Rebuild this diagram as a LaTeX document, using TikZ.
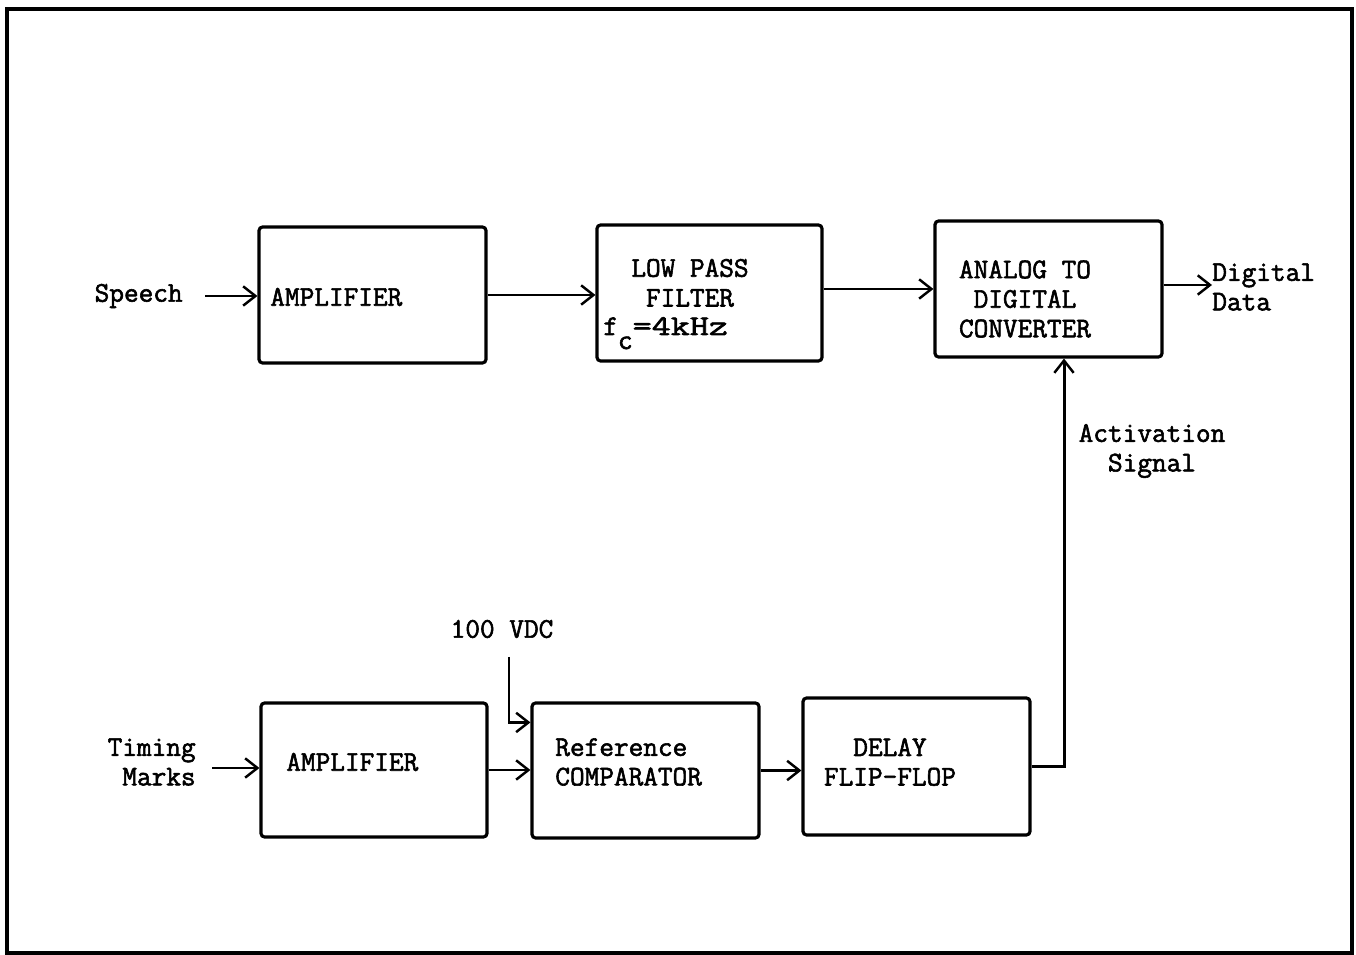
\documentclass[tikz,border=0pt]{standalone}
\usepackage{fontspec}
\setmainfont{Latin Modern Mono}[FakeBold=2]
\usetikzlibrary{arrows.meta,calc}
\begin{document}
\begin{tikzpicture}[x=0.02cm,y=-0.02cm,
  blk/.style={draw, line width=1.8pt, rounded corners=2pt, inner sep=0pt},
  lbl/.style={inner sep=0pt, font=\fontsize{16.2pt}{16.8pt}\selectfont},
  conn/.style={line width=1.7pt, -{Straight Barb[length=7pt,width=11pt,line width=1.4pt]}},
  wire/.style={line width=1.7pt}]
\useasboundingbox (0,0) rectangle (1356,955);
\draw[line width=1.8pt] (7,9) rectangle (1352,953);
% blocks
\node[blk, minimum width=4.54cm, minimum height=2.72cm] (amp1) at (372.5,295) {};
\node[blk, minimum width=4.50cm, minimum height=2.72cm] (lpf) at (709.5,293) {};
\node[blk, minimum width=4.54cm, minimum height=2.72cm] (adc) at (1048.5,289) {};
\node[blk, minimum width=4.52cm, minimum height=2.68cm] (amp2) at (374,770) {};
\node[blk, minimum width=4.54cm, minimum height=2.70cm] (rc) at (645.5,770.5) {};
\node[blk, minimum width=4.54cm, minimum height=2.74cm] (dff) at (916.5,766.5) {};
% block texts
\node[lbl, anchor=west] (t1) at (270,297) {AMPLIFIER};
\node[lbl] (t2a) at (690,268) {LOW PASS};
\node[lbl] (t2b) at (690,298) {FILTER};
\node[lbl, anchor=base west] (t2c) at (603,335) {f\raisebox{-8pt}{c}\scalebox{1.3}[1]{=4kHz}};
\node[lbl, align=center] (t3) at (1025,299) {ANALOG TO\\DIGITAL\\CONVERTER};
\node[lbl, anchor=west] (t4) at (286,762) {AMPLIFIER};
\node[lbl, anchor=west, align=left] (t5) at (555,762) {Reference\\COMPARATOR};
\node[lbl, align=center] (t6) at (890,762) {DELAY\\FLIP-FLOP};
% outer labels
\node[lbl, anchor=east] (speech) at (183,296) {Speech};
\node[lbl, anchor=east, align=right] (timing) at (196,762) {Timing\\Marks};
\node[lbl, anchor=west, align=left] (dd) at (1212,287) {Digital\\Data};
\node[lbl, align=center] (act) at (1152,451) {Activation\\Signal};
\node[lbl] (vdc) at (502,629) {100 VDC};
\coordinate (ddin) at (1212,285);
\coordinate (v1) at (509,657);
% connectors
\draw[conn] ($(speech.east)+(22,0)$) -- (speech.east -| amp1.west);
\draw[conn] (amp1.east) -- (amp1.east -| lpf.west);
\draw[conn] (adc.west -| lpf.east) -- (adc.west);
\draw[conn] (adc.east |- ddin) -- (ddin);
\draw[conn] ($(amp2.west -| timing.east)+(16,-2)$) -- ($(amp2.west)+(0,-2)$);
\draw[conn] (amp2.east) -- (amp2.east -| rc.west);
\draw[conn] (v1) |- ($(rc.north west)+(0,21)$);
\draw[conn] (rc.east) -- (rc.east -| dff.west);
\draw[conn] (dff.east) -| ($(adc.south)+(15.5,0)$);
\end{tikzpicture}
\end{document}
